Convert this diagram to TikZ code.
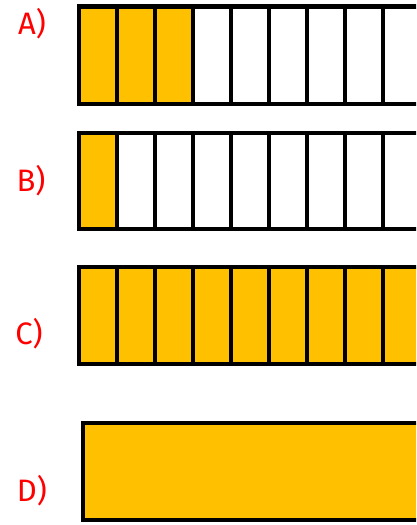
\documentclass[tikz,border=0pt]{standalone}
\usepackage{fontspec}
\setmainfont{Fira Sans}
\definecolor{gold}{RGB}{255,192,0}
\definecolor{lblred}{RGB}{255,0,0}
\tikzset{
  barline/.style={draw=black, line width=4.5pt},
  lbl/.style={text=lblred, font=\fontsize{31}{31}\selectfont, anchor=center, inner sep=0pt},
}
\begin{document}
\begin{tikzpicture}[x=1pt,y=-1pt]
\useasboundingbox (0,0) rectangle (416,525);
\clip (0,0) rectangle (416,525);
% A
\fill[gold] (79,6.5) rectangle (193,104);
\draw[barline] (430,6.5) -- (79,6.5) -- (79,104) -- (430,104);
\foreach \x in {117,155,193,231,269,307,345,383} \draw[barline] (\x,6.5) -- (\x,104);
% B
\fill[gold] (79,133) rectangle (117,229);
\draw[barline] (430,133) -- (79,133) -- (79,229) -- (430,229);
\foreach \x in {117,155,193,231,269,307,345,383} \draw[barline] (\x,133) -- (\x,229);
% C
\fill[gold] (79,267) rectangle (430,364);
\draw[barline] (430,267) -- (79,267) -- (79,364) -- (430,364);
\foreach \x in {117,155,193,231,269,307,345,383} \draw[barline] (\x,267) -- (\x,364);
% D
\fill[gold] (83,423) rectangle (430,520);
\draw[barline] (430,423) -- (83,423) -- (83,520) -- (430,520);
% labels
\node[lbl] (la) at (32,24) {A)};
\node[lbl] (lb) at (31,181) {B)};
\node[lbl] (lc) at (29,334) {C)};
\node[lbl] (ld) at (32,491) {D)};
\end{tikzpicture}
\end{document}
